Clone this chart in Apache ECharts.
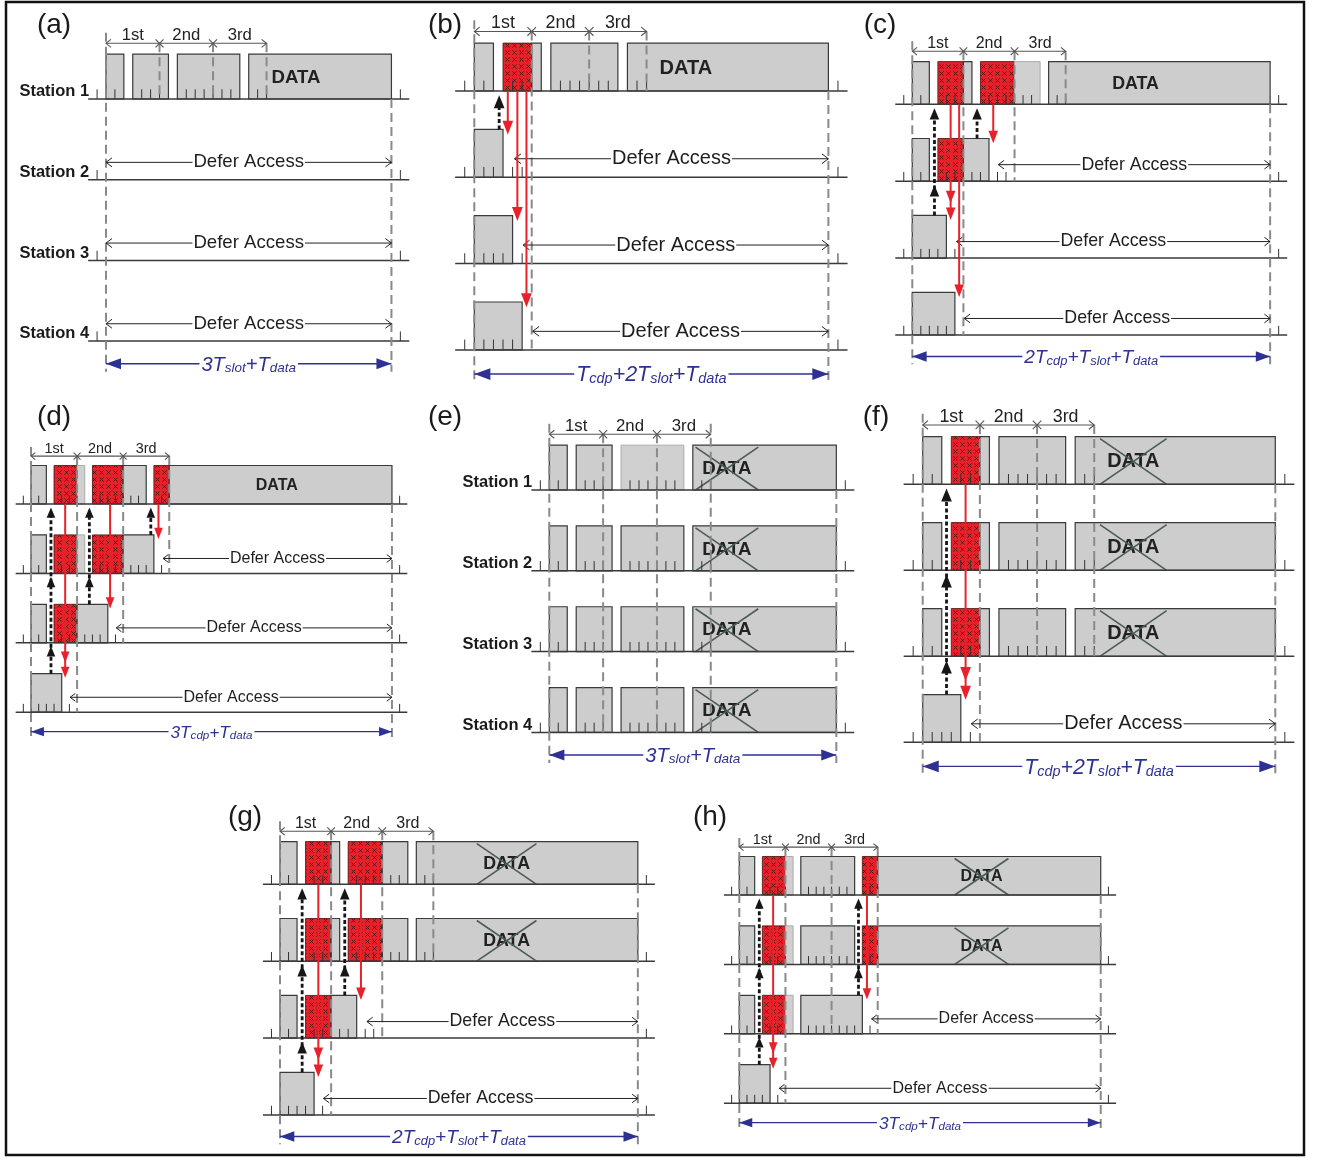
<!DOCTYPE html>
<html>
<head>
<meta charset="utf-8">
<title>Backoff timing diagrams</title>
<script src="https://cdn.jsdelivr.net/npm/echarts@6.0.0/dist/echarts.min.js"></script>
<style>
  html, body { margin: 0; padding: 0; background: #fff; }
  #chart { width: 1319px; height: 1158px; }
</style>
</head>
<body>
<div id="chart"></div>
<script>
// block kinds
const IDLE = 0, COLL = 1, LIGHT = 2, DATA = 3, LOST = 4;

const panelNames = ['(a)', '(b)', '(c)', '(d)', '(e)', '(f)', '(g)', '(h)'];
const stationNames = ['Station 1', 'Station 2', 'Station 3', 'Station 4'];
const slotLabels = ['1st', '2nd', '3rd'];
const slotBounds = [0, 6, 12, 18];            // time in mini-slots, 6 per slot
const panelEnds = [32, 37, 42, 47, 32, 37, 42, 47];
const bottomLabels = [
  '{m|3T}{s|slot}{m|+T}{s|data}',
  '{m|T}{s|cdp}{m|+2T}{s|slot}{m|+T}{s|data}',
  '{m|2T}{s|cdp}{m|+T}{s|slot}{m|+T}{s|data}',
  '{m|3T}{s|cdp}{m|+T}{s|data}',
  '{m|3T}{s|slot}{m|+T}{s|data}',
  '{m|T}{s|cdp}{m|+2T}{s|slot}{m|+T}{s|data}',
  '{m|2T}{s|cdp}{m|+T}{s|slot}{m|+T}{s|data}',
  '{m|3T}{s|cdp}{m|+T}{s|data}'
];

// blocks: [station, start, end, kind, DATA label x]
const blocksA = [[1, 0, 2, IDLE], [1, 3, 7, IDLE], [1, 8, 15, IDLE], [1, 16, 32, DATA, 21.3]];
const blocksB = [[1, 0, 2, IDLE], [1, 3, 6, COLL], [1, 6, 7, IDLE], [1, 8, 15, IDLE], [1, 16, 37, DATA, 22.1],
  [2, 0, 3, IDLE], [3, 0, 4, IDLE], [4, 0, 5, IDLE]];
const blocksC = [[1, 0, 2, IDLE], [1, 3, 6, COLL], [1, 6, 7, IDLE], [1, 8, 12, COLL], [1, 12, 15, LIGHT], [1, 16, 42, DATA, 26.2],
  [2, 0, 2, IDLE], [2, 3, 6, COLL], [2, 6, 9, IDLE], [3, 0, 4, IDLE], [4, 0, 5, IDLE]];
const blocksD = [[1, 0, 2, IDLE], [1, 3, 6, COLL], [1, 6, 7, LIGHT], [1, 8, 12, COLL], [1, 12, 15, IDLE], [1, 16, 18, COLL], [1, 18, 47, DATA, 32],
  [2, 0, 2, IDLE], [2, 3, 6, COLL], [2, 6, 7, LIGHT], [2, 8, 12, COLL], [2, 12, 16, IDLE],
  [3, 0, 2, IDLE], [3, 3, 6, COLL], [3, 6, 10, IDLE], [4, 0, 4, IDLE]];
const blocksE = [[1, 0, 2, IDLE], [1, 3, 7, IDLE], [1, 8, 15, LIGHT], [1, 16, 32, LOST, 19.8],
  [2, 0, 2, IDLE], [2, 3, 7, IDLE], [2, 8, 15, IDLE], [2, 16, 32, LOST, 19.8],
  [3, 0, 2, IDLE], [3, 3, 7, IDLE], [3, 8, 15, IDLE], [3, 16, 32, LOST, 19.8],
  [4, 0, 2, IDLE], [4, 3, 7, IDLE], [4, 8, 15, IDLE], [4, 16, 32, LOST, 19.8]];
const blocksF = [[1, 0, 2, IDLE], [1, 3, 6, COLL], [1, 6, 7, IDLE], [1, 8, 15, IDLE], [1, 16, 37, LOST, 22.1],
  [2, 0, 2, IDLE], [2, 3, 6, COLL], [2, 6, 7, IDLE], [2, 8, 15, IDLE], [2, 16, 37, LOST, 22.1],
  [3, 0, 2, IDLE], [3, 3, 6, COLL], [3, 6, 7, IDLE], [3, 8, 15, IDLE], [3, 16, 37, LOST, 22.1],
  [4, 0, 4, IDLE]];
const blocksG = [[1, 0, 2, IDLE], [1, 3, 6, COLL], [1, 6, 7, IDLE], [1, 8, 12, COLL], [1, 12, 15, IDLE], [1, 16, 42, LOST, 26.6],
  [2, 0, 2, IDLE], [2, 3, 6, COLL], [2, 6, 7, IDLE], [2, 8, 12, COLL], [2, 12, 15, IDLE], [2, 16, 42, LOST, 26.6],
  [3, 0, 2, IDLE], [3, 3, 6, COLL], [3, 6, 9, IDLE], [4, 0, 4, IDLE]];
const blocksH = [[1, 0, 2, IDLE], [1, 3, 6, COLL], [1, 6, 7, LIGHT], [1, 8, 15, IDLE], [1, 16, 18, COLL], [1, 18, 47, LOST, 31.5],
  [2, 0, 2, IDLE], [2, 3, 6, COLL], [2, 6, 7, LIGHT], [2, 8, 15, IDLE], [2, 16, 18, COLL], [2, 18, 47, LOST, 31.5],
  [3, 0, 2, IDLE], [3, 3, 6, COLL], [3, 6, 7, LIGHT], [3, 8, 16, IDLE], [4, 0, 4, IDLE]];

// mini-slot tick marks, one list per station
const ticksA = [[-1, 1, 4, 5, 6, 9, 10, 11, 12, 13, 14, 17, 18, 33], [-1, 33], [-1, 33], [-1, 33]];
const ticksB = [[-1, 1, 4, 5, 6, 9, 10, 11, 12, 13, 14, 17, 18, 38], [-1, 1, 2, 4, 5, 38], [-1, 1, 2, 3, 5, 38], [-1, 1, 2, 3, 4, 38]];
const ticksC = [[-1, 1, 4, 5, 6, 9, 10, 11, 12, 13, 14, 17, 18, 43], [-1, 1, 4, 5, 7, 8, 10, 11, 43], [-1, 1, 2, 3, 5, 43], [-1, 1, 2, 3, 4, 43]];
const ticksD = [[-1, 1, 4, 5, 6, 9, 10, 11, 12, 13, 14, 17, 18, 48], [-1, 1, 4, 5, 9, 10, 11, 13, 14, 15, 17, 48], [-1, 1, 4, 5, 7, 8, 9, 11, 48], [-1, 1, 2, 3, 5, 48]];
const ticksE = [[-1, 1, 4, 5, 6, 9, 10, 11, 12, 13, 14, 17, 18, 33], [-1, 1, 4, 5, 6, 9, 10, 11, 12, 13, 14, 17, 18, 33],
  [-1, 1, 4, 5, 6, 9, 10, 11, 12, 13, 14, 17, 18, 33], [-1, 1, 4, 5, 6, 9, 10, 11, 12, 13, 14, 17, 18, 33]];
const ticksF = [[-1, 1, 4, 5, 6, 9, 10, 11, 12, 13, 14, 17, 18, 38], [-1, 1, 4, 5, 6, 9, 10, 11, 12, 13, 14, 17, 18, 38],
  [-1, 1, 4, 5, 6, 9, 10, 11, 12, 13, 14, 17, 18, 38], [-1, 1, 2, 3, 5, 38]];
const ticksG = [[-1, 1, 4, 5, 6, 9, 10, 11, 12, 13, 14, 17, 18, 43], [-1, 1, 4, 5, 6, 9, 10, 11, 12, 13, 14, 17, 18, 43],
  [-1, 1, 4, 5, 7, 8, 10, 11, 43], [-1, 1, 2, 3, 5, 43]];
const ticksH = [[-1, 1, 4, 5, 6, 9, 10, 11, 12, 13, 14, 17, 18, 48], [-1, 1, 4, 5, 6, 9, 10, 11, 12, 13, 14, 17, 18, 48],
  [-1, 1, 4, 5, 9, 10, 11, 12, 13, 14, 15, 17, 48], [-1, 1, 2, 3, 5, 48]];

// defer access: [station, start, end]
const deferA = [[2, 0, 32], [3, 0, 32], [4, 0, 32]];
const deferB = [[2, 4.2, 37], [3, 5.1, 37], [4, 6.1, 37]];
const deferC = [[2, 10.1, 42], [3, 5.2, 42], [4, 6.1, 42]];
const deferD = [[2, 17.2, 47], [3, 11.1, 47], [4, 5.1, 47]];
const deferE = [];
const deferF = [[4, 5.1, 37]];
const deferG = [[3, 10.2, 42], [4, 5.1, 42]];
const deferH = [[3, 17.2, 47], [4, 5.2, 47]];

// collision signal (red): [time, from station, to station, heads]
const redB = [[3.5, 1, 2, 1], [4.5, 1, 3, 1], [5.45, 1, 4, 1]];
const redC = [[4.5, 1, 3, 2], [5.5, 1, 4, 1], [9.5, 1, 2, 1]];
const redD = [[4.45, 1, 4, 2], [10.3, 1, 3, 1], [16.6, 1, 2, 1]];
const redF = [[4.5, 1, 4, 2]];
const redG = [[4.5, 1, 4, 2], [9.5, 1, 3, 1]];
const redH = [[4.4, 1, 4, 2], [16.6, 1, 3, 1]];

// busy detection (black dashed): [time, from station, to station]
const upB = [[2.6, 2, 1]];
const upC = [[2.6, 3, 1], [7.6, 2, 1]];
const upD = [[2.6, 4, 1], [7.6, 3, 1], [15.6, 2, 1]];
const upF = [[2.5, 4, 1]];
const upG = [[2.6, 4, 1], [7.6, 3, 1]];
const upH = [[2.6, 4, 1], [15.5, 3, 1]];

// dashed guides: [time, from y, to y] (y in station rows)
const dashA = [[0, 0.18, 4.38], [6, 0.31, 1], [12, 0.31, 1], [18, 0.31, 1], [32, 1, 4.38]];
const dashB = [[0, 0.18, 4.38], [6, 0.31, 4], [12, 0.31, 1], [18, 0.31, 1], [37, 1, 4.38]];
const dashC = [[0, 0.18, 4.38], [6, 0.31, 4], [12, 0.31, 2], [18, 0.31, 1], [42, 1, 4.38]];
const dashD = [[0, 0.18, 4.38], [6, 0.31, 4], [12, 0.31, 3], [18, 0.31, 2], [47, 1, 4.38]];
const dashE = [[0, 0.18, 4.38], [6, 0.31, 4], [12, 0.31, 4], [18, 0.18, 4], [32, 1, 4.38]];
const dashF = [[0, 0.18, 4.38], [6, 0.31, 4], [12, 0.31, 3], [18, 0.31, 3], [37, 1, 4.38]];
const dashG = [[0, 0.18, 4.38], [6, 0.31, 4], [12, 0.31, 3], [18, 0.31, 2], [42, 1, 4.38]];
const dashH = [[0, 0.18, 4.38], [6, 0.31, 4], [12, 0.31, 3], [18, 0.31, 3], [47, 1, 4.38]];

const panels = [
  {blocks: blocksA, ticks: ticksA, defer: deferA, red: [], up: [], dash: dashA, names: true},
  {blocks: blocksB, ticks: ticksB, defer: deferB, red: redB, up: upB, dash: dashB},
  {blocks: blocksC, ticks: ticksC, defer: deferC, red: redC, up: upC, dash: dashC},
  {blocks: blocksD, ticks: ticksD, defer: deferD, red: redD, up: upD, dash: dashD},
  {blocks: blocksE, ticks: ticksE, defer: deferE, red: [], up: [], dash: dashE, names: true},
  {blocks: blocksF, ticks: ticksF, defer: deferF, red: redF, up: upF, dash: dashF},
  {blocks: blocksG, ticks: ticksG, defer: deferG, red: redG, up: upG, dash: dashG},
  {blocks: blocksH, ticks: ticksH, defer: deferH, red: redH, up: upH, dash: dashH}
];

// page layout of each panel: time origin (px), px per mini-slot, first baseline, row spacing
const layout = [
  {S: 106, u: 8.92, B: 99, D: 80.7, lab: [54, 25]},
  {S: 474.3, u: 9.57, B: 91, D: 86.3, lab: [445, 25]},
  {S: 912.3, u: 8.52, B: 104.3, D: 76.9, lab: [880, 25]},
  {S: 31, u: 7.68, B: 504, D: 69.4, lab: [54, 417]},
  {S: 549.3, u: 8.97, B: 490, D: 80.8, lab: [445, 417]},
  {S: 922.7, u: 9.53, B: 484.3, D: 86, lab: [876, 417]},
  {S: 280, u: 8.52, B: 884.3, D: 76.9, lab: [245, 817]},
  {S: 739.3, u: 7.69, B: 895, D: 69.4, lab: [710, 817]}
];

const FONT = '"Liberation Sans", Arial, Helvetica, sans-serif';
const BLOCK_H = 0.555, TICK_H = 0.12, DEFER_Y = 0.215, SLOT_Y = 0.31, SLOT_TXT = 0.215, BOTTOM_Y = 4.28;
const BLUE = '#2e3192', RED = '#e8212a';

const hatch = (() => {
  const c = document.createElement('canvas');
  c.width = 7; c.height = 7;
  const g = c.getContext('2d');
  g.fillStyle = '#e52229';
  g.fillRect(0, 0, 7, 7);
  g.strokeStyle = 'rgba(45,0,0,0.9)';
  g.lineWidth = 0.8;
  g.beginPath();
  g.moveTo(1.5, 1.5); g.lineTo(5.5, 5.5);
  g.moveTo(5.5, 1.5); g.lineTo(1.5, 5.5);
  g.stroke();
  return c;
})();

function tri(x, y, dx, dy, len, half, color) {
  const bx = x - dx * len, by = y - dy * len;
  return {type: 'polygon', shape: {points: [[x, y], [bx - dy * half, by + dx * half], [bx + dy * half, by - dx * half]]},
    style: {fill: color}};
}
function chevron(x, y, dir, len, half, color, w) {
  return {type: 'polyline', shape: {points: [[x - dir * len, y - half], [x, y], [x - dir * len, y + half]]},
    style: {stroke: color, lineWidth: w, fill: null}};
}
function text(x, y, str, font, color, align, extra) {
  return {type: 'text', x: x, y: y, style: Object.assign({text: str, font: font, fill: color,
    align: align, textAlign: align, verticalAlign: 'middle', textVerticalAlign: 'middle'}, extra || {})};
}

const chart = echarts.init(document.getElementById('chart'));
const series = [];

panels.forEach((p, i) => {
  const k = layout[i].u / 8.92;
  const end = panelEnds[i];
  const base = {type: 'custom', coordinateSystem: 'cartesian2d', xAxisIndex: i, yAxisIndex: i,
    silent: true, animation: false, clip: false};
  const add = (data, fn) => series.push(Object.assign({}, base, {
    data: data, renderItem: (params, api) => fn(data[params.dataIndex], api)
  }));

  // blocks
  add(p.blocks, (b, api) => {
    const tl = api.coord([b[1], b[0] - BLOCK_H]), br = api.coord([b[2], b[0]]);
    const shape = {x: tl[0], y: tl[1], width: br[0] - tl[0], height: br[1] - tl[1]};
    let style;
    if (b[3] === COLL) style = {fill: {image: hatch, repeat: 'repeat'}, stroke: '#4a0c0c', lineWidth: 0.8};
    else if (b[3] === LIGHT) style = {fill: '#d0d0d0', stroke: '#ababab', lineWidth: 1};
    else style = {fill: '#cdcdcd', stroke: '#3a3a3a', lineWidth: 1.2};
    const kids = [{type: 'rect', shape: shape, style: style}];
    if (b[3] >= DATA) {
      const c = api.coord([b[4], b[0] - BLOCK_H / 2]);
      kids.push(text(c[0], c[1] + 1, 'DATA', 'bold ' + (18.6 * k).toFixed(1) + 'px ' + FONT, '#222', 'center'));
      if (b[3] === LOST) {
        const a = api.coord([b[4] - 3.5, b[0] - BLOCK_H]), z = api.coord([b[4] + 3.5, b[0]]);
        const st = {stroke: '#4b5c56', lineWidth: 1.6};
        kids.push({type: 'line', shape: {x1: a[0], y1: a[1] + 2, x2: z[0], y2: z[1]}, style: st});
        kids.push({type: 'line', shape: {x1: z[0], y1: a[1] + 2, x2: a[0], y2: z[1]}, style: st});
      }
    }
    return {type: 'group', children: kids};
  });

  // mini-slot ticks
  const tickData = [];
  p.ticks.forEach((ts, r) => ts.forEach(t => tickData.push([t, r + 1])));
  add(tickData, (t, api) => {
    const a = api.coord(t), b = api.coord([t[0], t[1] - TICK_H]);
    return {type: 'line', shape: {x1: a[0], y1: a[1], x2: b[0], y2: b[1]}, style: {stroke: '#333', lineWidth: 1}};
  });

  // baselines
  const rows = stationNames.map((n, r) => [r + 1]);
  add(rows, (r, api) => {
    const a = api.coord([-2, r[0]]), b = api.coord([end + 2, r[0]]);
    return {type: 'line', shape: {x1: a[0], y1: a[1], x2: b[0], y2: b[1]}, style: {stroke: '#3a3a3a', lineWidth: 1.5}};
  });

  // dashed guides
  add(p.dash, (d, api) => {
    const a = api.coord([d[0], d[1]]), b = api.coord([d[0], d[2]]);
    return {type: 'line', shape: {x1: a[0], y1: a[1], x2: b[0], y2: b[1]},
      style: {stroke: '#8a8a8a', lineWidth: 2, lineDash: [9, 5]}};
  });

  // defer access arrows
  add(p.defer, (d, api) => {
    const y = d[0] - DEFER_Y;
    const a = api.coord([d[1], y]), b = api.coord([d[2], y]), c = api.coord([(d[1] + d[2]) / 2, y]);
    return {type: 'group', children: [
      {type: 'line', shape: {x1: a[0], y1: a[1], x2: b[0], y2: b[1]}, style: {stroke: '#222', lineWidth: 1}},
      chevron(a[0], a[1], -1, 6 * k, 4.5 * k, '#222', 1),
      chevron(b[0], b[1], 1, 6 * k, 4.5 * k, '#222', 1),
      text(c[0], c[1], 'Defer Access', (18.6 * k).toFixed(1) + 'px ' + FONT, '#1e1e1e', 'center',
        {backgroundColor: '#fff', padding: [0, 1]})
    ]};
  });

  // collision signal arrows
  add(p.red, (d, api) => {
    const a = api.coord([d[0], d[1]]);
    const tip = api.coord([d[0], d[2] - BLOCK_H + 0.06]);
    const len = 13 * k, half = 5 * k;
    const kids = [{type: 'line', shape: {x1: a[0], y1: a[1], x2: tip[0], y2: tip[1] - len * 0.6},
      style: {stroke: RED, lineWidth: 2}}];
    for (let h = 0; h < d[3]; h++) {
      const t = api.coord([d[0], d[2] - BLOCK_H + 0.06 - h * 0.22]);
      kids.push(tri(t[0], t[1], 0, 1, len, half, RED));
    }
    return {type: 'group', children: kids};
  });

  // busy detection arrows
  add(p.up, (d, api) => {
    const a = api.coord([d[0], d[1] - BLOCK_H]);
    const tip = api.coord([d[0], d[2] + 0.05]);
    const len = 12 * k, half = 5 * k;
    const kids = [{type: 'line', shape: {x1: a[0], y1: a[1], x2: tip[0], y2: tip[1] + len * 0.6},
      style: {stroke: '#161616', lineWidth: 2.8, lineDash: [4, 2.5]}}];
    for (let r = d[2]; r < d[1]; r++) {
      const t = api.coord([d[0], r + 0.05]);
      kids.push(tri(t[0], t[1], 0, -1, len, half, '#161616'));
    }
    return {type: 'group', children: kids};
  });

  // slot ruler, total-time arrow, station names, panel label
  add([[0]], (x, api) => {
    const kids = [];
    const s0 = api.coord([slotBounds[0], SLOT_Y]), s3 = api.coord([slotBounds[3], SLOT_Y]);
    kids.push({type: 'line', shape: {x1: s0[0], y1: s0[1], x2: s3[0], y2: s3[1]}, style: {stroke: '#555', lineWidth: 1.1}});
    kids.push(chevron(s0[0], s0[1], -1, 5 * k, 4 * k, '#555', 1.1));
    kids.push(chevron(s3[0], s3[1], 1, 5 * k, 4 * k, '#555', 1.1));
    [slotBounds[1], slotBounds[2]].forEach(t => {
      const c = api.coord([t, SLOT_Y]), e = 4 * k;
      kids.push({type: 'line', shape: {x1: c[0] - e, y1: c[1] - e, x2: c[0] + e, y2: c[1] + e}, style: {stroke: '#555', lineWidth: 1.1}});
      kids.push({type: 'line', shape: {x1: c[0] - e, y1: c[1] + e, x2: c[0] + e, y2: c[1] - e}, style: {stroke: '#555', lineWidth: 1.1}});
    });
    slotLabels.forEach((l, j) => {
      const c = api.coord([(slotBounds[j] + slotBounds[j + 1]) / 2, SLOT_TXT]);
      kids.push(text(c[0], c[1], l, (16.7 * k).toFixed(1) + 'px ' + FONT, '#222', 'center'));
    });

    const b0 = api.coord([0, BOTTOM_Y]), b1 = api.coord([end, BOTTOM_Y]), bc = api.coord([end / 2, BOTTOM_Y]);
    kids.push({type: 'line', shape: {x1: b0[0], y1: b0[1], x2: b1[0], y2: b1[1]}, style: {stroke: BLUE, lineWidth: 1.4}});
    kids.push(tri(b0[0], b0[1], -1, 0, 15 * k, 5.5 * k, BLUE));
    kids.push(tri(b1[0], b1[1], 1, 0, 15 * k, 5.5 * k, BLUE));
    kids.push({type: 'text', x: bc[0], y: bc[1] + 1.5 * k, style: {
      text: bottomLabels[i], align: 'center', textAlign: 'center', verticalAlign: 'middle', textVerticalAlign: 'middle',
      backgroundColor: '#fff', padding: [0, 2],
      rich: {
        m: {fontSize: 20 * k, lineHeight: 20 * k, fontStyle: 'italic', fontFamily: FONT, fill: BLUE, color: BLUE, verticalAlign: 'top'},
        s: {fontSize: 13.5 * k, lineHeight: 13.5 * k, padding: [9 * k, 0, 0, 0], fontStyle: 'italic', fontFamily: FONT,
          fill: BLUE, color: BLUE, verticalAlign: 'bottom'}
      }
    }});

    if (p.names) {
      stationNames.forEach((n, r) => {
        const c = api.coord([-1.9, r + 1 - 0.09]);
        kids.push(text(c[0], c[1], n, 'bold 16.5px ' + FONT, '#1a1a1a', 'right'));
      });
    }
    kids.push(text(layout[i].lab[0], layout[i].lab[1], panelNames[i], '28px ' + FONT, '#1a1a1a', 'center'));
    return {type: 'group', children: kids};
  });
});

chart.setOption({
  animation: false,
  backgroundColor: '#fff',
  grid: layout.map((g, i) => ({
    left: g.S - 3 * g.u, width: (panelEnds[i] + 6) * g.u,
    top: g.B - g.D, height: 4.6 * g.D,
    containLabel: false, outerBoundsMode: 'none', show: false
  })),
  xAxis: layout.map((g, i) => ({gridIndex: i, type: 'value', min: -3, max: panelEnds[i] + 3, show: false})),
  yAxis: layout.map((g, i) => ({gridIndex: i, type: 'value', min: 0, max: 4.6, inverse: true, show: false})),
  graphic: [{
    type: 'rect', silent: true, z: 100,
    shape: {x: 6, y: 2, width: 1298, height: 1153},
    style: {fill: null, stroke: '#111', lineWidth: 2.5}
  }],
  series: series
});
</script>
</body>
</html>
